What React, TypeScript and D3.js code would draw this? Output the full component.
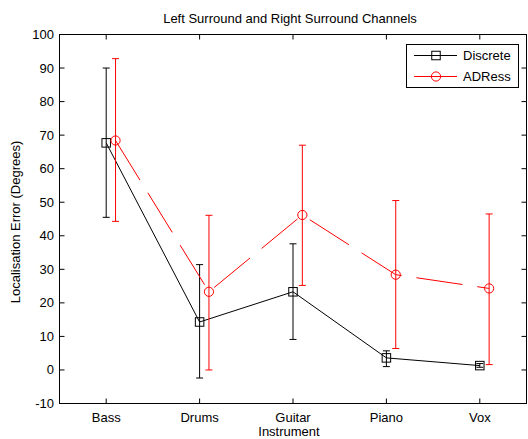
import React from "react";
import * as d3 from "d3";

const categories = ["Bass", "Drums", "Guitar", "Piano", "Vox"];
const discreteMean = [67.7, 14.3, 23.3, 3.6, 1.3];
const discreteUpper = [90.0, 31.4, 37.6, 5.7, 1.9];
const discreteLower = [45.5, -2.4, 9.1, 1.0, 0.8];
const adressMean = [68.4, 23.3, 46.2, 28.4, 24.3];
const adressUpper = [92.8, 46.1, 67.0, 50.5, 46.5];
const adressLower = [44.3, 0.0, 25.2, 6.4, 1.6];
const yTicks = [-10, 0, 10, 20, 30, 40, 50, 60, 70, 80, 90, 100];
const seriesNames = ["Discrete", "ADRess"];

const W = 528;
const H = 439;
const FONT = "'Liberation Sans', Arial, sans-serif";

export default function App() {
  const x = d3.scaleLinear().domain([0.5, 5.5]).range([59.5, 526.5]);
  const y = d3.scaleLinear().domain([-10, 100]).range([403.5, 34.5]);
  const x0 = x(0.5), x1 = x(5.5), yTop = y(100), yBot = y(-10);
  const tickLen = 5;
  const capW = 3.5;

  const blackPts: [number, number][] = discreteMean.map((v, i) => [x(i + 1), y(v)]);
  const redPts: [number, number][] = adressMean.map((v, i) => [x(i + 1.1), y(v)]);
  const line = d3.line();

  const errBars = (means: number[], up: number[], lo: number[], off: number, color: string) =>
    means.map((_, i) => {
      const cx = x(i + 1 + off);
      return (
        <g key={i} stroke={color} strokeWidth={1} fill="none">
          <line x1={cx} x2={cx} y1={y(up[i])} y2={y(lo[i])} />
          <line x1={cx - capW} x2={cx + capW} y1={y(up[i])} y2={y(up[i])} />
          <line x1={cx - capW} x2={cx + capW} y1={y(lo[i])} y2={y(lo[i])} />
        </g>
      );
    });

  const sq = 8.5;

  return (
    <svg width={W} height={H} style={{ position: "absolute", left: 0, top: 0, background: "#fff" }} fontFamily={FONT}>
      <rect x={0} y={0} width={W} height={H} fill="#fff" />
      {/* title */}
      <text x={290} y={22.5} fontSize={13} textAnchor="middle" fill="#000">
        Left Surround and Right Surround Channels
      </text>
      {/* y ticks */}
      {yTicks.map((t) => (
        <g key={t}>
          <line x1={x0} x2={x0 + tickLen} y1={y(t)} y2={y(t)} stroke="#000" />
          <line x1={x1} x2={x1 - tickLen} y1={y(t)} y2={y(t)} stroke="#000" />
          <text x={54} y={y(t) + 4.5} fontSize={13} textAnchor="end" fill="#000">
            {t}
          </text>
        </g>
      ))}
      {/* x ticks */}
      {categories.map((c, i) => (
        <g key={c}>
          <line x1={x(i + 1)} x2={x(i + 1)} y1={yBot} y2={yBot - tickLen} stroke="#000" />
          <line x1={x(i + 1)} x2={x(i + 1)} y1={yTop} y2={yTop + tickLen} stroke="#000" />
          <text x={x(i + 1)} y={421.5} fontSize={13} textAnchor="middle" fill="#000">
            {c}
          </text>
        </g>
      ))}
      <text x={289} y={435.5} fontSize={13} textAnchor="middle" fill="#000">
        Instrument
      </text>
      <text
        transform={`translate(20,222) rotate(-90)`}
        fontSize={13}
        textAnchor="middle"
        fill="#000"
      >
        Localisation Error (Degrees)
      </text>

      {/* discrete series */}
      {errBars(discreteMean, discreteUpper, discreteLower, 0, "#000")}
      <path d={line(blackPts) || ""} fill="none" stroke="#000" strokeWidth={1} />
      {blackPts.map(([px, py], i) => (
        <rect key={i} x={px - sq / 2} y={py - sq / 2} width={sq} height={sq} fill="none" stroke="#000" strokeWidth={1} />
      ))}

      {/* ADRess series */}
      {errBars(adressMean, adressUpper, adressLower, 0.1, "#ff0000")}
      <path d={line(redPts) || ""} fill="none" stroke="#ff0000" strokeWidth={1} strokeDasharray="46.5,15" />
      {redPts.map(([px, py], i) => (
        <circle key={i} cx={px} cy={py} r={4.6} fill="none" stroke="#ff0000" strokeWidth={1} />
      ))}

      {/* frame */}
      <rect x={x0} y={yTop} width={x1 - x0} height={yBot - yTop} fill="none" stroke="#000" strokeWidth={1} />

      {/* legend */}
      <g>
        <rect x={406.5} y={44.5} width={112} height={43} fill="#fff" stroke="#000" strokeWidth={1} />
        <line x1={414} x2={457} y1={55.5} y2={55.5} stroke="#000" />
        <rect x={436 - sq / 2} y={55.5 - sq / 2} width={sq} height={sq} fill="none" stroke="#000" />
        <text x={463} y={60} fontSize={13} fill="#000">{seriesNames[0]}</text>
        <line x1={414} x2={457} y1={76.5} y2={76.5} stroke="#ff0000" />
        <circle cx={436} cy={76.5} r={4.6} fill="none" stroke="#ff0000" />
        <text x={463} y={81} fontSize={13} fill="#000">{seriesNames[1]}</text>
      </g>
    </svg>
  );
}
